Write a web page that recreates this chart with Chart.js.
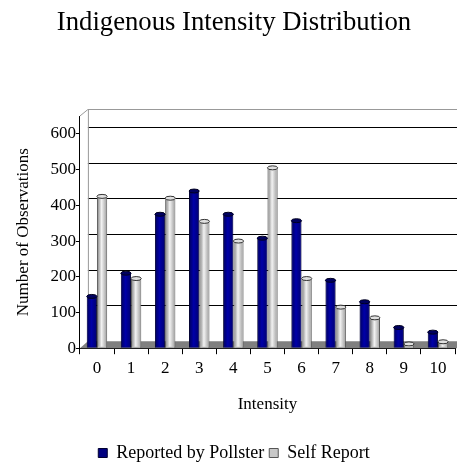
<!DOCTYPE html>
<html>
<head>
<meta charset="utf-8">
<script src="https://cdn.jsdelivr.net/npm/chart.js@4.4.0/dist/chart.umd.min.js"></script>
<style>
  html, body { margin: 0; padding: 0; background: #fff; }
  #wrap { width: 457px; height: 464px; }
</style>
</head>
<body>
<div id="wrap"><canvas id="chart"></canvas></div>
<script>
const intensities = ['0', '1', '2', '3', '4', '5', '6', '7', '8', '9', '10'];
const pollsterValues = [145, 210, 375, 440, 375, 308, 357, 190, 130, 58, 45];
const selfReportValues = [425, 195, 420, 355, 300, 505, 195, 115, 85, 12, 18];
const yTicks = [0, 100, 200, 300, 400, 500, 600];

const serif = "'Liberation Serif', 'Times New Roman', serif";
const depthX = 8, depthY = 7;

// back wall, gridlines and grey floor to mimic the 3d look
const wallPlugin = {
    id: 'wall',
    beforeDatasetsDraw(chart) {
        const ctx = chart.ctx;
        const area = chart.chartArea;
        const y = chart.scales.y;
        const x0 = area.left, x1 = chart.width + 10;
        ctx.save();
        ctx.lineWidth = 1;
        ctx.strokeStyle = '#000';
        yTicks.slice(1).forEach(v => {
            const py = Math.round(y.getPixelForValue(v) - depthY) + 0.5;
            ctx.beginPath();
            ctx.moveTo(x0 + depthX, py);
            ctx.lineTo(x1, py);
            ctx.stroke();
        });
        ctx.strokeStyle = '#999';
        const top = Math.round(area.top - depthY) + 0.5;
        ctx.beginPath();
        ctx.moveTo(x0, area.top);
        ctx.lineTo(x0 + depthX, top);
        ctx.lineTo(x1, top);
        ctx.moveTo(x0 + depthX + 0.5, top);
        ctx.lineTo(x0 + depthX + 0.5, area.bottom - depthY);
        ctx.stroke();
        // floor
        ctx.fillStyle = '#808080';
        ctx.beginPath();
        ctx.moveTo(x0, area.bottom);
        ctx.lineTo(x0 + depthX, area.bottom - depthY);
        ctx.lineTo(x1, area.bottom - depthY);
        ctx.lineTo(x1, area.bottom);
        ctx.closePath();
        ctx.fill();
        ctx.restore();
    }
};

// cylinder shading on top of the plain bars
const shadePalette = [
    ['#00005a', '#0000a8', '#000070'],
    ['#7a7a7a', '#f2f2f2', '#9a9a9a']
];
const cylinderPlugin = {
    id: 'cylinder',
    afterDatasetsDraw(chart) {
        const ctx = chart.ctx;
        ctx.save();
        chart.data.datasets.forEach((ds, i) => {
            const cols = shadePalette[i];
            chart.getDatasetMeta(i).data.forEach(bar => {
                const left = bar.x - bar.width / 2;
                const right = bar.x + bar.width / 2;
                const g = ctx.createLinearGradient(left, 0, right, 0);
                g.addColorStop(0, cols[0]);
                g.addColorStop(0.45, cols[1]);
                g.addColorStop(1, cols[2]);
                ctx.fillStyle = g;
                ctx.fillRect(left + 1, bar.y + 1, bar.width - 2, bar.base - bar.y - 2);
                ctx.beginPath();
                ctx.ellipse(bar.x, bar.y, bar.width / 2, 2, 0, 0, Math.PI * 2);
                ctx.fillStyle = i === 0 ? '#000060' : '#e0e0e0';
                ctx.fill();
                ctx.strokeStyle = i === 0 ? '#000020' : '#333';
                ctx.lineWidth = 1;
                ctx.stroke();
            });
        });
        ctx.restore();
    }
};

new Chart(document.getElementById('chart'), {
    type: 'bar',
    data: {
        labels: intensities,
        datasets: [
            {
                label: 'Reported by Pollster',
                data: pollsterValues,
                backgroundColor: '#000080',
                borderColor: '#000030',
                borderWidth: 1
            },
            {
                label: 'Self Report',
                data: selfReportValues,
                backgroundColor: '#c8c8c8',
                borderColor: '#555',
                borderWidth: 1
            }
        ]
    },
    options: {
        responsive: true,
        maintainAspectRatio: false,
        animation: false,
        categoryPercentage: 0.6,
        barPercentage: 1,
        layout: { padding: { left: 13, right: 2, top: 0, bottom: -8 } },
        plugins: {
            title: {
                display: true,
                text: 'Indigenous Intensity Distribution',
                color: '#000',
                font: { family: serif, size: 26.7, weight: 'normal' },
                padding: { top: 7, bottom: 77 }
            },
            legend: {
                position: 'bottom',
                labels: {
                    color: '#000',
                    font: { family: serif, size: 18 },
                    boxWidth: 9,
                    boxHeight: 9,
                    padding: 5
                }
            },
            tooltip: { enabled: false }
        },
        scales: {
            x: {
                grid: { display: true, drawOnChartArea: false, color: '#000', tickLength: 6, offset: true },
                border: { color: '#000' },
                ticks: { color: '#000', font: { family: serif, size: 17 }, padding: 4 },
                title: {
                    display: true,
                    text: 'Intensity',
                    color: '#000',
                    font: { family: serif, size: 17 },
                    padding: { top: 12, bottom: 24 }
                }
            },
            y: {
                min: 0,
                max: 650,
                ticks: { stepSize: 100, color: '#000', font: { family: serif, size: 17 }, padding: 0 },
                afterBuildTicks: scale => { scale.ticks = yTicks.map(v => ({ value: v })); },
                grid: { display: true, drawOnChartArea: false, color: '#000', tickLength: 4 },
                border: { color: '#000' },
                title: {
                    display: true,
                    text: 'Number of Observations',
                    color: '#000',
                    font: { family: serif, size: 17 },
                    padding: { top: 0, bottom: 17 }
                }
            }
        }
    },
    plugins: [wallPlugin, cylinderPlugin]
});
</script>
</body>
</html>
